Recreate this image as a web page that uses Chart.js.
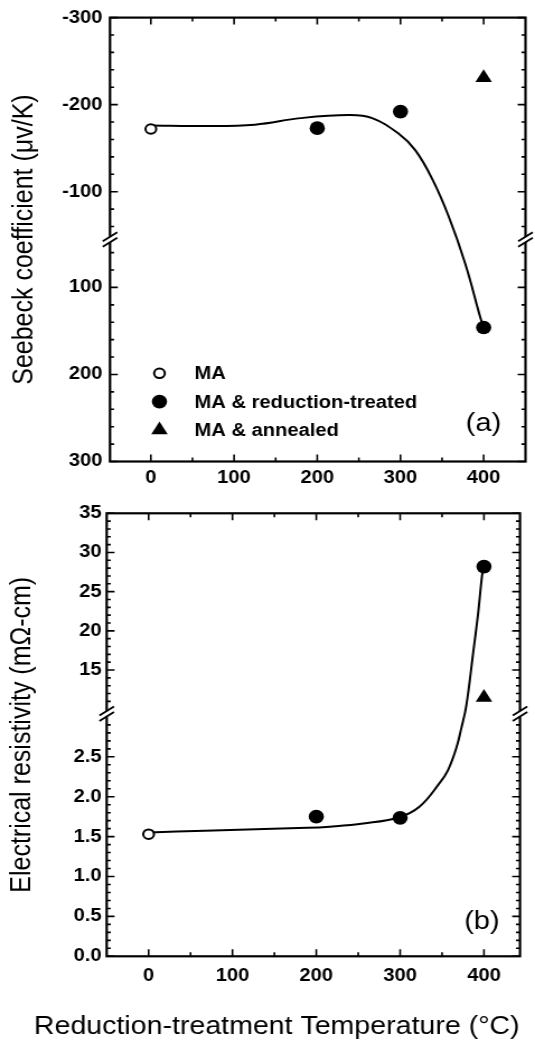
<!DOCTYPE html>
<html>
<head>
<meta charset="utf-8">
<script src="https://cdn.jsdelivr.net/npm/chart.js@4.4.1/dist/chart.umd.min.js"></script>
<style>
  body { margin: 0; background: #fff; }
  .wrap { position: relative; width: 535px; height: 1047px; }
  canvas { position: absolute; left: 0; }
</style>
</head>
<body>
<div class="wrap">
  <!-- the scan is a bit wider than tall, so the canvases are drawn narrow and stretched -->
  <canvas id="seebeck" width="478" height="495" style="top:0;width:535px;height:495px"></canvas>
  <canvas id="resist" width="478" height="552" style="top:495px;width:535px;height:552px"></canvas>
</div>
<script>
const seriesLabels = ["MA", "MA & reduction-treated", "MA & annealed"];
const maTemp = [0];
const reducedTemp = [200, 300, 400];
const annealedTemp = [400];

const maSeebeck = [-172];
const reducedSeebeck = [-173, -192, 146];
const annealedSeebeck = [-231];

const maResist = [1.53];
const reducedResist = [1.75, 1.735, 28.2];
const annealedResist = [11.5];

const seebeckFitTemp = [0, 60, 125, 180, 238, 266, 298, 318, 338, 358, 378, 396, 400];
const seebeckFit = [-176, -175.5, -177, -184.5, -188, -184.5, -166.5, -147.5, -115, -71.5, 73, 134.5, 146];
const resistFitTemp = [0, 67, 189, 216, 256, 298, 323, 347, 357, 367, 373, 379, 387, 393, 398, 400];
const resistFit = [1.55, 1.575, 1.61, 1.625, 1.665, 1.74, 1.875, 2.17, 2.33, 2.61, 2.86, 10.5, 17.1, 22.2, 27.3, 28.2];

const tempTicks = [0, 100, 200, 300, 400];
const tempMinor = [50, 150, 250, 350];
const seebeckTicks = [-300, -200, -100, 100, 200, 300];
const resistTicks = [0, 0.5, 1, 1.5, 2, 2.5, 15, 20, 25, 30, 35];

// broken axes: cut the empty middle out of each y range
const seebeckPos = v => v < 0 ? v + 45 : v - 45;
const resistPos = v => v < 6 ? v * 10 : 35.88 + 0.982 * (v - 15);

const seebeckMinor = [];
for (let v = -280; v <= 280; v += 20) if (Math.abs(v) >= 60 && v % 100) seebeckMinor.push(v);
const resistMinor = [];
for (let i = 1; i < 30; i++) if (i % 5) resistMinor.push(i / 10);
for (let v = 11; v < 35; v++) if (v % 5) resistMinor.push(v);

const FONT = '"Liberation Sans", Arial, Helvetica, sans-serif';
Chart.defaults.font.family = FONT;
Chart.defaults.color = '#000';
const tickFont = {family: FONT, size: 18, weight: 'bold'};

const pts = (xs, ys, f) => xs.map((x, i) => ({x: x, y: f(ys[i])}));

function datasets(ma, red, ann, fitT, fit, f) {
  return [
    {label: seriesLabels[0], inKey: true, showLine: false, data: pts(maTemp, ma, f),
     pointStyle: 'circle', pointRadius: 4.8, pointBorderWidth: 2,
     pointBackgroundColor: '#fff', pointBorderColor: '#000'},
    {label: seriesLabels[1], inKey: true, showLine: false, data: pts(reducedTemp, red, f),
     pointStyle: 'circle', pointRadius: 6.8, pointBorderWidth: 0,
     pointBackgroundColor: '#000', pointBorderColor: '#000'},
    {label: seriesLabels[2], inKey: true, showLine: false, data: pts(annealedTemp, ann, f),
     pointStyle: 'triangle', pointRadius: 8.5, pointBorderWidth: 0,
     pointBackgroundColor: '#000', pointBorderColor: '#000'},
    {type: 'line', label: 'fit', data: pts(fitT, fit, f), borderColor: '#000', borderWidth: 2,
     pointRadius: 0, tension: 0.4, fill: false}
  ];
}

function drawMark(ctx, d, x, y) {
  const r = d.pointRadius;
  ctx.beginPath();
  if (d.pointStyle === 'triangle') {
    for (let k = 0; k < 3; k++) {
      const a = k * 2 * Math.PI / 3;
      ctx[k ? 'lineTo' : 'moveTo'](x + Math.sin(a) * r, y - Math.cos(a) * r);
    }
    ctx.closePath();
  } else {
    ctx.arc(x, y, r, 0, 2 * Math.PI);
  }
  ctx.fillStyle = d.pointBackgroundColor;
  ctx.fill();
  if (d.pointBorderWidth) {
    ctx.lineWidth = d.pointBorderWidth;
    ctx.strokeStyle = d.pointBorderColor;
    ctx.stroke();
  }
}

// box, inward ticks on all four sides, break marks and the panel tag
const framePlugin = {
  id: 'frame',
  afterDraw(chart, args, o) {
    const {ctx, chartArea: a} = chart;
    const xs = chart.scales.x, ys = chart.scales.y;
    ctx.save();
    ctx.strokeStyle = '#000';
    ctx.lineWidth = 1.6;
    ctx.beginPath();
    const vtick = (v, len) => {
      const px = xs.getPixelForValue(v);
      ctx.moveTo(px, a.bottom); ctx.lineTo(px, a.bottom - len);
      ctx.moveTo(px, a.top); ctx.lineTo(px, a.top + len);
    };
    const htick = (t, len) => {
      const py = ys.getPixelForValue(t);
      ctx.moveTo(a.left, py); ctx.lineTo(a.left + len, py);
      ctx.moveTo(a.right, py); ctx.lineTo(a.right - len, py);
    };
    tempTicks.forEach(v => vtick(v, 7));
    tempMinor.forEach(v => vtick(v, 4));
    ys.ticks.forEach(t => htick(t.value, 7));
    o.minor.forEach(t => htick(t, 3.6));
    ctx.stroke();

    ctx.lineWidth = 2.2;
    ctx.strokeRect(a.left, a.top, a.right - a.left, a.bottom - a.top);

    const by = ys.getPixelForValue(o.breakAt);
    [a.left, a.right].forEach(bx => {
      ctx.fillStyle = '#fff';
      ctx.fillRect(bx - 3, by - 2.5, 6, 5);
      ctx.beginPath();
      [-2.8, 2.8].forEach(d => {
        ctx.moveTo(bx - 6.5, by + d + 4.5);
        ctx.lineTo(bx + 6.5, by + d - 4.5);
      });
      ctx.lineWidth = 1.8;
      ctx.stroke();
    });

    ctx.fillStyle = '#000';
    ctx.font = '26px ' + FONT;
    ctx.textAlign = 'center';
    ctx.textBaseline = 'middle';
    ctx.fillText(o.tag, a.right + o.tagDx, a.bottom + o.tagDy);
    ctx.restore();
  }
};

const keyPlugin = {
  id: 'keyBox',
  afterDraw(chart, args, o) {
    if (!o.show) return;
    const {ctx, chartArea: a} = chart;
    ctx.save();
    ctx.font = 'bold 18px ' + FONT;
    ctx.textAlign = 'left';
    ctx.textBaseline = 'middle';
    chart.data.datasets.filter(d => d.inKey).forEach((d, i) => {
      const y = a.top + 355.7 + i * 28.3;
      drawMark(ctx, d, a.left + 44.2, y);
      ctx.fillStyle = '#000';
      ctx.fillText(d.label, a.left + 75.5, y + 1);
    });
    ctx.restore();
  }
};

function tempAxis(min, max, height, pad) {
  return {
    type: 'linear', min: min, max: max,
    afterBuildTicks: s => { s.ticks = tempTicks.map(v => ({value: v})); },
    afterFit: s => { s.height = height; },
    ticks: {font: tickFont, color: '#000', padding: pad, maxRotation: 0, autoSkip: false,
            callback: v => String(v)},
    grid: {display: false, drawTicks: false},
    border: {display: false}
  };
}

new Chart(document.getElementById('seebeck'), {
  type: 'scatter',
  data: {datasets: datasets(maSeebeck, reducedSeebeck, annealedSeebeck, seebeckFitTemp, seebeckFit, seebeckPos)},
  options: {
    responsive: false,
    animation: false,
    devicePixelRatio: 1,
    layout: {padding: {left: 0, right: 7.14, top: 15, bottom: 0}},
    plugins: {
      legend: {display: false},
      tooltip: {enabled: false},
      frame: {minor: seebeckMinor.map(seebeckPos), breakAt: 0, tag: '(a)', tagDx: -37.6, tagDy: -37.3},
      keyBox: {show: true}
    },
    scales: {
      x: tempAxis(-49.1, 450.3, 33.5, 6),
      y: {
        type: 'linear', min: -255, max: 255, reverse: true,
        afterBuildTicks: s => { s.ticks = seebeckTicks.map(v => ({value: seebeckPos(v)})); },
        afterFit: s => { s.width = 98.28; },
        ticks: {font: tickFont, color: '#000', padding: 6.8, autoSkip: false,
                callback: (v, i) => String(seebeckTicks[i])},
        grid: {display: false, drawTicks: false},
        border: {display: false},
        title: {display: true, text: 'Seebeck coefficient (\u03bcv/K)', color: '#000',
                font: {family: FONT, size: 25}, padding: {top: 6.9, bottom: 0}}
      }
    }
  },
  plugins: [framePlugin, keyPlugin]
});

new Chart(document.getElementById('resist'), {
  type: 'scatter',
  data: {datasets: datasets(maResist, reducedResist, annealedResist, resistFitTemp, resistFit, resistPos)},
  options: {
    responsive: false,
    animation: false,
    devicePixelRatio: 1,
    layout: {padding: {left: 30, right: 13.4, top: 18.3, bottom: 0}},
    plugins: {
      legend: {display: false},
      tooltip: {enabled: false},
      title: {display: true, position: 'bottom', text: 'Reduction-treatment Temperature (\u00b0C)',
              color: '#000', font: {family: FONT, size: 25.5, weight: 'normal'},
              padding: {top: 0, bottom: 4.7}},
      frame: {minor: resistMinor.map(resistPos), breakAt: 30.4, tag: '(b)', tagDx: -34, tagDy: -34.6},
      keyBox: {show: false}
    },
    scales: {
      x: tempAxis(-50, 443, 55.4, 8.6),
      y: {
        type: 'linear', min: 0, max: 55.52,
        afterBuildTicks: s => { s.ticks = resistTicks.map(v => ({value: resistPos(v)})); },
        afterFit: s => { s.width = 65.33; },
        ticks: {font: tickFont, color: '#000', padding: 4.5, autoSkip: false,
                callback: (v, i) => resistTicks[i] < 5 ? resistTicks[i].toFixed(1) : String(resistTicks[i])},
        grid: {display: false, drawTicks: false},
        border: {display: false},
        title: {display: true, text: 'Electrical resistivity (m\u03a9-cm)', color: '#000',
                font: {family: FONT, size: 25}, padding: {top: -25.3, bottom: 0}}
      }
    }
  },
  plugins: [framePlugin]
});
</script>
</body>
</html>
